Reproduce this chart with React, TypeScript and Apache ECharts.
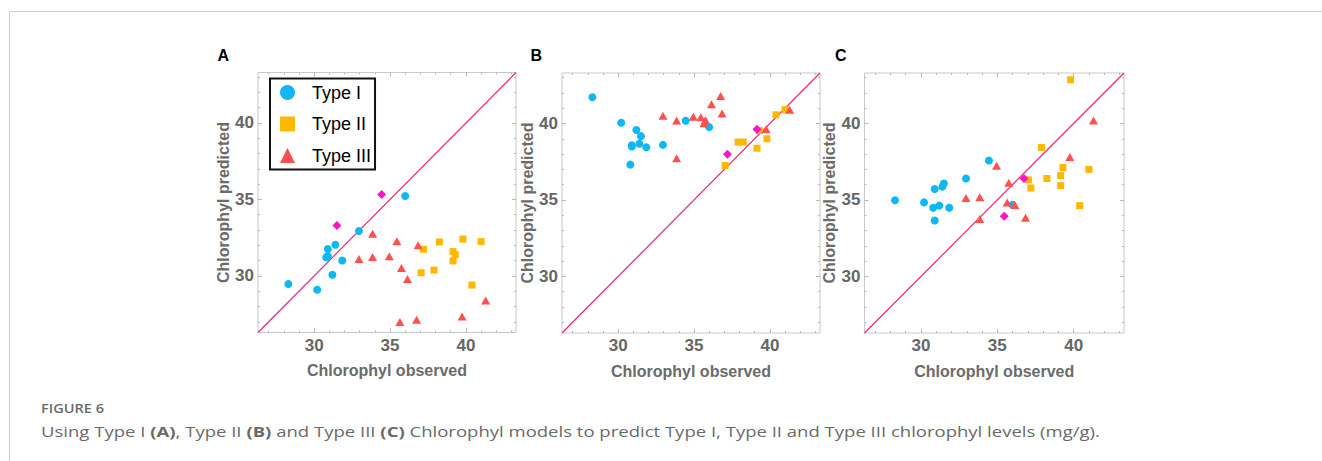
import React, { useEffect, useRef } from "react";
import * as echarts from "echarts";

// ---------- data ----------
const AXIS_MIN = 26.3;
const AXIS_MAX = 43.3;
const majorTicks = [30, 35, 40];
const minorTicks = [27, 28, 29, 31, 32, 33, 34, 36, 37, 38, 39, 41, 42, 43];

const panelLabels = ["A", "B", "C"];
const typeNames = ["Type I", "Type II", "Type III"];

// observed chlorophyl (x) per sample type
const observedTypeI = [28.3, 30.2, 30.8, 30.9, 30.9, 31.2, 31.4, 31.5, 31.85, 32.95, 34.45, 36.0];
const observedTypeII = [37.05, 37.2, 37.9, 38.25, 39.15, 39.15, 39.3, 39.8, 40.4, 41.0];
const observedTypeIII = [32.95, 33.85, 33.85, 34.95, 35.45, 35.65, 35.75, 36.15, 36.75, 36.85, 39.75, 41.3];

// Panel A – Type I model predictions
const predA_I = [29.47, 29.09, 31.21, 31.76, 31.3, 30.08, 32.04, 33.29, 31.01, 32.94, 35.32, 35.23];
const predA_II = [30.21, 31.74, 30.38, 32.22, 31.59, 30.98, 31.38, 32.41, 29.4, 32.24];
const predA_III = [31.1, 32.76, 31.23, 31.28, 32.26, 26.98, 30.52, 29.8, 27.13, 32.0, 27.35, 28.4];
// Panel B – Type II model predictions
const predB_I = [41.71, 40.05, 37.31, 38.58, 38.5, 39.57, 38.67, 39.17, 38.45, 38.6, 40.18, 39.76];
const predB_II = [37.25, 37.99, 38.78, 38.78, 38.38, 39.63, 39.54, 39.0, 40.57, 40.9];
const predB_III = [40.5, 40.2, 37.73, 40.44, 40.4, 40.02, 40.22, 41.25, 41.8, 40.66, 39.63, 40.9];
// Panel C – Type III model predictions
const predC_I = [34.98, 34.84, 34.49, 33.66, 35.72, 34.63, 35.87, 36.07, 34.49, 36.4, 37.58, 34.69];
const predC_II = [36.31, 35.78, 38.43, 36.4, 36.59, 35.94, 37.12, 42.86, 34.63, 37.0];
const predC_III = [35.13, 35.17, 33.75, 37.23, 33.93, 34.84, 36.13, 34.67, 36.4, 33.84, 37.8, 40.2];

// highlighted samples (magenta diamonds): [type index, sample index]
const highlightA = [[0, 7], [0, 10]];
const highlightB = [[1, 1], [1, 5]];
const highlightC = [[2, 4], [2, 8]];

const captionTitle = "FIGURE 6";
const captionText =
  "Using Type I {b|(A)}, Type II {b|(B)} and Type III {b|(C)} Chlorophyl models to predict Type I, Type II and Type III chlorophyl levels (mg/g).";

// ---------- styles / layout ----------
const FONT = "'Liberation Sans', Arial, sans-serif";
const CAPTION_FONT = "'Open Sans', sans-serif";
const COLORS = ["#0DB8F3", "#FFB800", "#FF5050"];
const HIGHLIGHT = "#FF12C8";
const DIAG = "#F0267A";
const FRAME = "#c8c8c8";
const TICK = "#b8b8b8";
const SYMBOLS = ["circle", "rect", "triangle"];
const SYMBOL_SIZES: any[] = [8, 7, [9, 8]];

const grids = [
  { left: 258, top: 72.5, width: 258, height: 260 },
  { left: 562, top: 73, width: 258, height: 260 },
  { left: 864.5, top: 73, width: 259.5, height: 260 },
];
const panelLabelX = [217.5, 530.5, 835];

const observed = [observedTypeI, observedTypeII, observedTypeIII];
const predictions = [
  [predA_I, predA_II, predA_III],
  [predB_I, predB_II, predB_III],
  [predC_I, predC_II, predC_III],
];
const highlights = [highlightA, highlightB, highlightC];

function buildOption() {
  const xAxis: any[] = [];
  const yAxis: any[] = [];
  const series: any[] = [];
  const graphic: any[] = [];

  grids.forEach((g, i) => {
    const base = {
      gridIndex: i,
      type: "value",
      min: AXIS_MIN,
      max: AXIS_MAX,
      splitLine: { show: false },
      axisLine: { show: false, onZero: false },
    };
    const tickMajor = { show: true, inside: true, length: 4, customValues: majorTicks, lineStyle: { color: TICK } };
    const tickMinor = { show: true, inside: true, length: 2, customValues: minorTicks, lineStyle: { color: TICK } };
    const noLabel = { show: false };
    const label = {
      show: true,
      customValues: majorTicks,
      fontFamily: FONT,
      fontSize: 17,
      fontWeight: "bold",
      color: "#666",
    };
    xAxis.push({
      ...base,
      position: "bottom",
      axisTick: tickMajor,
      axisLabel: { ...label, margin: 4 },
      name: "Chlorophyl observed",
      nameLocation: "middle",
      nameGap: 30,
      nameTextStyle: { fontFamily: FONT, fontSize: 16, fontWeight: "bold", color: "#6b6b6b" },
    });
    xAxis.push({ ...base, position: "bottom", axisTick: tickMinor, axisLabel: noLabel });
    xAxis.push({ ...base, position: "top", axisTick: tickMajor, axisLabel: noLabel });
    xAxis.push({ ...base, position: "top", axisTick: tickMinor, axisLabel: noLabel });
    yAxis.push({
      ...base,
      position: "left",
      axisTick: tickMajor,
      axisLabel: { ...label, margin: 4 },
      name: "Chlorophyl predicted",
      nameLocation: "middle",
      nameGap: 27,
      nameTextStyle: { fontFamily: FONT, fontSize: 16, fontWeight: "bold", color: "#6b6b6b" },
    });
    yAxis.push({ ...base, position: "left", axisTick: tickMinor, axisLabel: noLabel });
    yAxis.push({ ...base, position: "right", axisTick: tickMajor, axisLabel: noLabel });
    yAxis.push({ ...base, position: "right", axisTick: tickMinor, axisLabel: noLabel });

    const xi = i * 4;
    const yi = i * 4;

    series.push({
      type: "line",
      xAxisIndex: xi,
      yAxisIndex: yi,
      data: [
        [AXIS_MIN, AXIS_MIN],
        [AXIS_MAX, AXIS_MAX],
      ],
      symbol: "none",
      silent: true,
      lineStyle: { color: DIAG, width: 1.2 },
      z: 1,
    });

    const hl = highlights[i];
    typeNames.forEach((name, t) => {
      const data: number[][] = [];
      observed[t].forEach((x, k) => {
        if (hl.some(([ht, hk]) => ht === t && hk === k)) return;
        data.push([x, predictions[i][t][k]]);
      });
      series.push({
        type: "scatter",
        name,
        xAxisIndex: xi,
        yAxisIndex: yi,
        data,
        symbol: SYMBOLS[t],
        symbolSize: SYMBOL_SIZES[t],
        itemStyle: { color: COLORS[t], opacity: 1 },
        z: 2,
      });
    });
    series.push({
      type: "scatter",
      name: "highlight",
      xAxisIndex: xi,
      yAxisIndex: yi,
      data: hl.map(([t, k]) => [observed[t][k], predictions[i][t][k]]),
      symbol: "diamond",
      symbolSize: [9, 9],
      itemStyle: { color: HIGHLIGHT, opacity: 1 },
      z: 3,
    });

    graphic.push({
      type: "text",
      left: panelLabelX[i],
      top: 47,
      style: {
        text: panelLabels[i],
        font: `bold 16px ${FONT}`,
        fill: "#000",
      },
    });
  });

  graphic.push({
    type: "line",
    shape: { x1: 9.5, y1: 11.5, x2: 1322, y2: 11.5 },
    style: { stroke: "#cccccc", lineWidth: 1 },
  });
  graphic.push({
    type: "line",
    shape: { x1: 9.5, y1: 11.5, x2: 9.5, y2: 461 },
    style: { stroke: "#cccccc", lineWidth: 1 },
  });
  graphic.push({
    type: "text",
    x: 41,
    y: 407.5,
    scaleX: 1.12,
    style: {
      text: captionTitle,
      font: `600 13px ${CAPTION_FONT}`,
      fill: "#6a6a6a",
      verticalAlign: "middle",
    },
  });
  graphic.push({
    type: "text",
    x: 41,
    y: 431.5,
    scaleX: 1.235,
    style: {
      text: captionText,
      font: `15px ${CAPTION_FONT}`,
      fill: "#6a6a6a",
      verticalAlign: "middle",
      rich: {
        b: { fontWeight: "bold", fontSize: 15, fontFamily: CAPTION_FONT, fill: "#6a6a6a" },
      },
    },
  });

  return {
    animation: false,
    backgroundColor: "#fff",
    grid: grids.map((g) => ({
      ...g,
      show: true,
      borderColor: FRAME,
      borderWidth: 1,
      backgroundColor: "transparent",
      containLabel: false,
    })),
    xAxis,
    yAxis,
    legend: {
      show: true,
      orient: "vertical",
      left: 270,
      top: 78.5,
      selectedMode: false,
      data: typeNames.map((n, t) => ({ name: n, icon: SYMBOLS[t] })),
      itemWidth: 15,
      itemHeight: 15,
      itemGap: 13.5,
      padding: [5, 4, 5, 10],
      borderColor: "#111",
      borderWidth: 2,
      backgroundColor: "#fff",
      textStyle: {
        fontFamily: FONT,
        fontSize: 18,
        lineHeight: 18,
        color: "#000",
        padding: [0, 0, 0, 12],
      },
    },
    series,
    graphic,
  };
}

export default function App() {
  const ref = useRef<HTMLDivElement>(null);
  useEffect(() => {
    if (!ref.current) return;
    const chart = echarts.init(ref.current, null, { renderer: "svg" });
    chart.setOption(buildOption() as any);
    return () => chart.dispose();
  }, []);
  return (
    <div
      ref={ref}
      style={{ position: "absolute", left: 0, top: 0, width: 1322, height: 461, background: "#fff" }}
    />
  );
}
